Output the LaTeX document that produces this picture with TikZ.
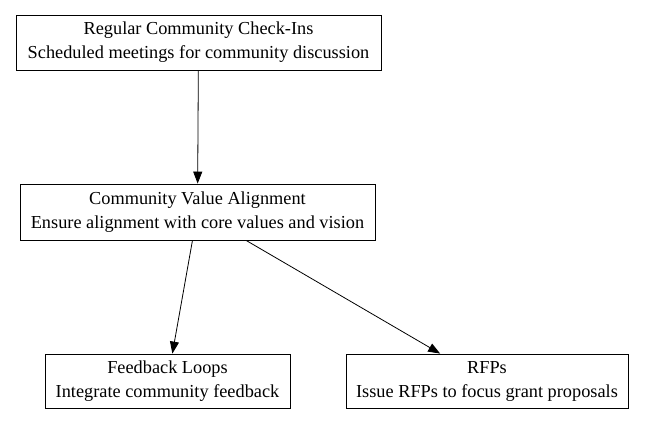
\documentclass[tikz,border=0pt]{standalone}
\usepackage{fontspec}
\setmainfont{Liberation Serif}
\usetikzlibrary{arrows.meta}

\begin{document}
\begin{tikzpicture}[x=1pt,y=-1pt,
    box/.style={draw,thick,align=center,inner sep=0pt,
      font=\fontsize{18.3}{24}\selectfont},
    link/.style={thick,-{Triangle[length=12pt,width=9pt]}}]
  \useasboundingbox (0,0) rectangle (645,425);
  \node[box,minimum width=365,minimum height=55] (checkins) at (198.5,42.5)
    {Regular Community Check-Ins\\Scheduled meetings for community discussion};
  \node[box,minimum width=355,minimum height=56] (alignment) at (197.5,212)
    {Community Value Alignment\\Ensure alignment with core values and vision};
  \node[box,minimum width=245,minimum height=54] (feedback) at (167.5,381)
    {Feedback Loops\\Integrate community feedback};
  \node[box,minimum width=282,minimum height=54] (rfps) at (487,381)
    {RFPs\\Issue RFPs to focus grant proposals};
  % edges
  \draw[link] (checkins) -- (alignment);
  \draw[link] (alignment) -- (feedback);
  \draw[link] (alignment) -- (rfps);
\end{tikzpicture}
\end{document}
